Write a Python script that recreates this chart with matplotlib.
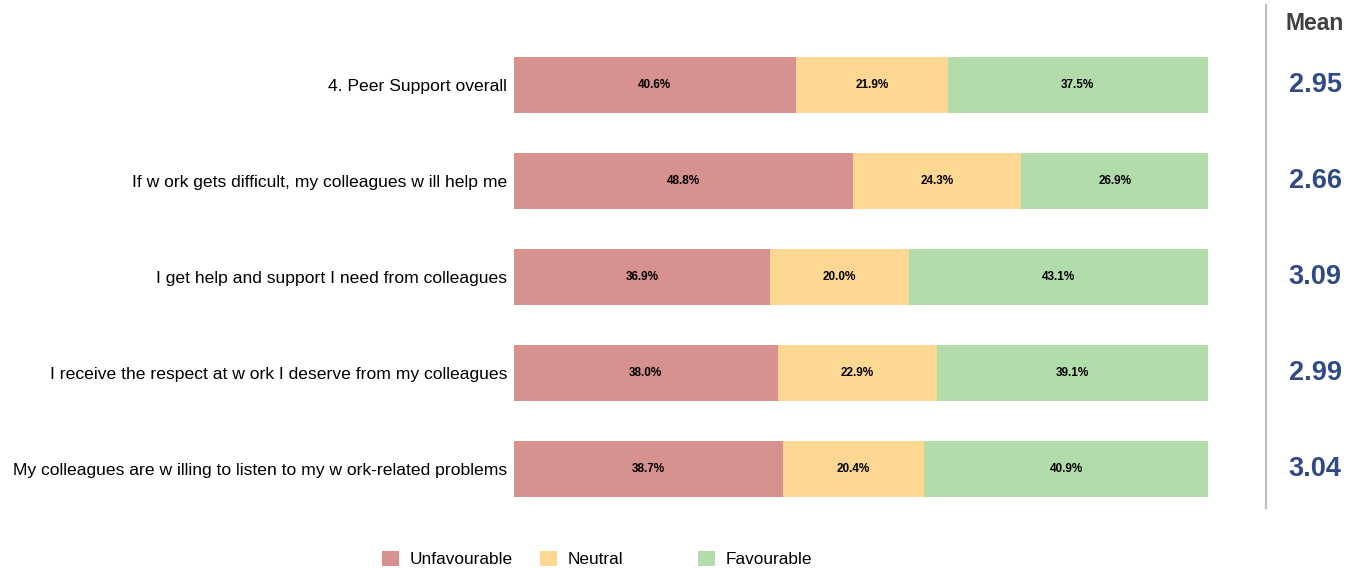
import matplotlib.pyplot as plt
import numpy as np

plt.rcParams['font.family'] = ['Liberation Sans', 'DejaVu Sans']

questions = [
    "4. Peer Support overall",
    "If w ork gets difficult, my colleagues w ill help me",
    "I get help and support I need from colleagues",
    "I receive the respect at w ork I deserve from my colleagues",
    "My colleagues are w illing to listen to my w ork-related problems",
]
unfavourable = [40.6, 48.8, 36.9, 38.0, 38.7]
neutral = [21.9, 24.3, 20.0, 22.9, 20.4]
favourable = [37.5, 26.9, 43.1, 39.1, 40.9]
means = ["2.95", "2.66", "3.09", "2.99", "3.04"]
series_names = ["Unfavourable", "Neutral", "Favourable"]
colors = ["#D7928F", "#FED892", "#B3DCAB"]

fig = plt.figure(figsize=(13.62, 5.69), dpi=100)
ax = fig.add_axes([514 / 1362, 1 - 517 / 569, (1208 - 514) / 1362, 480 / 569])

y = np.arange(len(questions))
left = np.zeros(len(questions))
bars = []
for vals, c in zip([unfavourable, neutral, favourable], colors):
    b = ax.barh(y, vals, left=left, height=0.585, color=c, linewidth=0)
    bars.append(b)
    for yi, l, v in zip(y, left, vals):
        ax.text(l + v / 2, yi, "%.1f%%" % v, ha='center', va='center',
                fontsize=8.5, fontweight='bold', color='black')
    left = left + np.array(vals)

ax.set_xlim(0, 100)
ax.set_ylim(4.5, -0.5)
ax.set_yticks(y)
ax.set_yticklabels(questions, fontsize=12.6)
ax.tick_params(axis='y', length=0, pad=5)
ax.set_xticks([])
for s in ax.spines.values():
    s.set_visible(False)

# mean column
fig.add_artist(plt.Line2D([1266 / 1362, 1266 / 1362], [1 - 5 / 569, 1 - 508 / 569],
                          color='#BFBFBF', linewidth=1.5))
fig.text(1315 / 1362, 1 - 23 / 569, "Mean", ha='center', va='center',
         fontsize=16.5, fontweight='bold', color='#404040')
for yi, m in zip(y, means):
    ax.text(1.0 + (1315 - 1208) / (1208 - 514), yi, m, transform=ax.get_yaxis_transform(),
            ha='center', va='center', fontsize=19.5, fontweight='bold', color='#2F4A85')

# legend with evenly spaced entries
for i, (name, b) in enumerate(zip(series_names, bars)):
    fig.legend([b], [name], loc='center left',
               bbox_to_anchor=((382 + 158 * i) / 1362, 1 - 559 / 569),
               frameon=False, handlelength=1.0, handleheight=1.0,
               handletextpad=0.6, borderpad=0, borderaxespad=0, fontsize=12.4)

fig.savefig("out.png", dpi=100)
